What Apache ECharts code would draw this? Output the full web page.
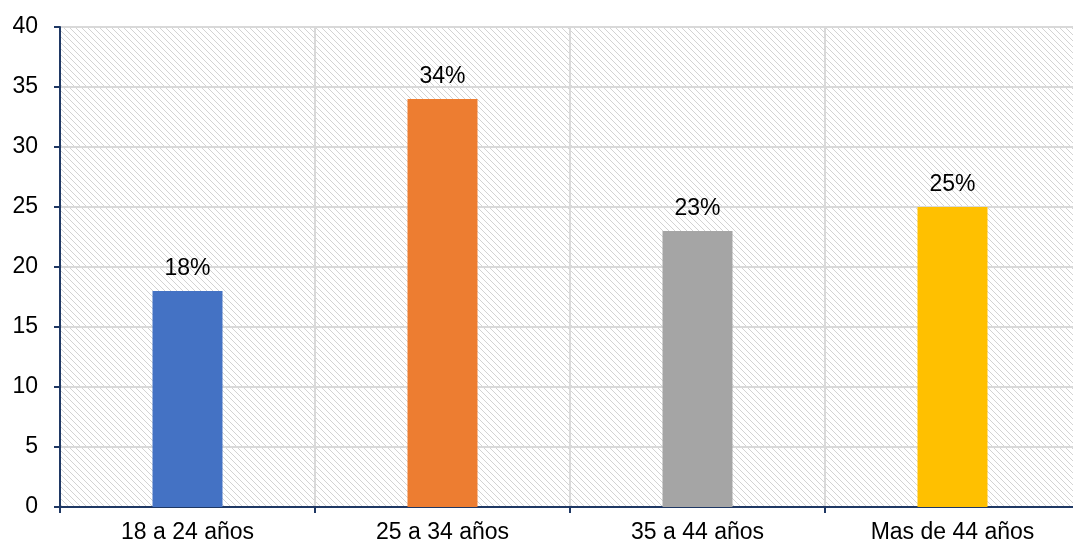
<!DOCTYPE html>
<html>
<head>
<meta charset="utf-8">
<script src="https://cdn.jsdelivr.net/npm/echarts@6/dist/echarts.min.js"></script>
<style>
  html, body { margin: 0; padding: 0; background: #fff; }
  #chart { width: 1073px; height: 548px; }
</style>
</head>
<body>
<div id="chart"></div>
<script>
// datos del grafico
const categories = ['18 a 24 años', '25 a 34 años', '35 a 44 años', 'Mas de 44 años']
const values = [18, 34, 23, 25]
const labels = ['18%', '34%', '23%', '25%']
const colors = ['#4472C4', '#ED7D31', '#A5A5A5', '#FFC000']

// fondo rayado en diagonal
function makeHatch() {
  const c = document.createElement('canvas')
  c.width = 6
  c.height = 6
  const ctx = c.getContext('2d')
  ctx.fillStyle = '#ffffff'
  ctx.fillRect(0, 0, 6, 6)
  ctx.strokeStyle = '#d3d3d3'
  ctx.lineWidth = 1
  ctx.beginPath()
  ctx.moveTo(-1, -1); ctx.lineTo(7, 7)
  ctx.moveTo(-1, 5); ctx.lineTo(1, 7)
  ctx.moveTo(5, -1); ctx.lineTo(7, 1)
  ctx.stroke()
  return c
}

const chart = echarts.init(document.getElementById('chart'))
const axisColor = '#1F3864'
const font = 'Arial, "Liberation Sans", sans-serif'

chart.setOption({
  animation: false,
  grid: {
    left: 60,
    width: 1020,
    top: 27,
    bottom: 41,
    outerBoundsMode: 'none',
    show: true,
    borderWidth: 0,
    backgroundColor: { image: makeHatch(), repeat: 'repeat' }
  },
  xAxis: {
    type: 'category',
    data: categories,
    axisLine: { lineStyle: { color: axisColor, width: 2 } },
    axisTick: { show: true, length: 6, lineStyle: { color: axisColor, width: 2 } },
    splitLine: { show: true, lineStyle: { color: '#d9d9d9', width: 2 } },
    axisLabel: { color: '#000', fontSize: 23, fontFamily: font, margin: 14 }
  },
  yAxis: {
    type: 'value',
    min: 0,
    max: 40,
    interval: 5,
    axisLine: { show: true, lineStyle: { color: axisColor, width: 2 } },
    axisTick: { show: true, length: 6, lineStyle: { color: axisColor, width: 2 } },
    splitLine: { show: true, lineStyle: { color: '#d9d9d9', width: 2 } },
    axisLabel: { color: '#000', fontSize: 23, fontFamily: font, margin: 22 }
  },
  series: [
    {
      type: 'bar',
      barWidth: 70,
      data: values.map((v, i) => ({ value: v, itemStyle: { color: colors[i] } })),
      label: {
        show: true,
        position: 'top',
        distance: 11,
        color: '#000',
        fontSize: 23,
        fontFamily: font,
        formatter: (p) => labels[p.dataIndex]
      }
    }
  ]
})
</script>
</body>
</html>
